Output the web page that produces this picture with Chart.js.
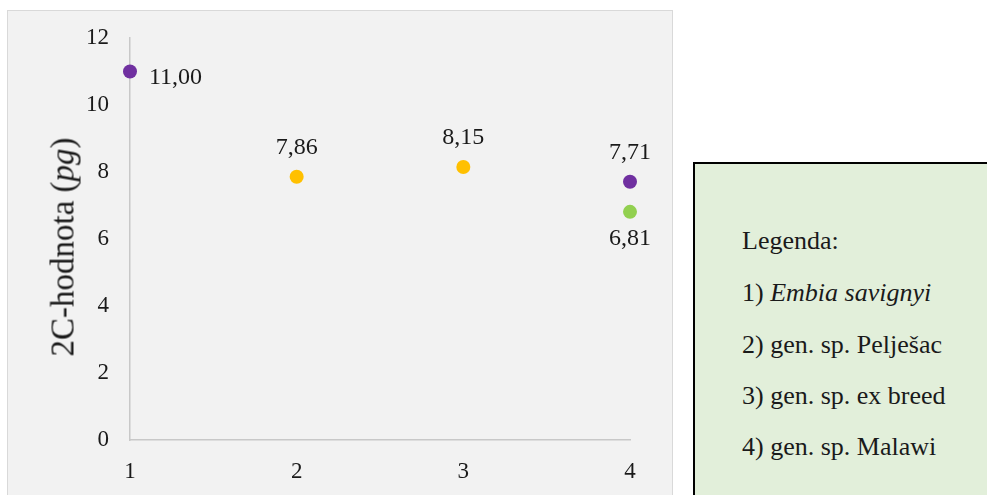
<!DOCTYPE html>
<html>
<head>
<meta charset="utf-8">
<script src="https://cdn.jsdelivr.net/npm/chart.js@4.4.1/dist/chart.umd.min.js"></script>
<style>
  body { margin: 0; background: #fff; width: 987px; height: 495px; position: relative; overflow: hidden;
         font-family: "Liberation Serif", "Times New Roman", serif; color: #1a1a1a; }
  #plotBox { position: absolute; left: 7px; top: 10px; width: 664px; height: 500px;
             background: #f2f2f2; border: 1px solid #d9d9d9; }
  #chartWrap { position: absolute; left: 0; top: 0; width: 987px; height: 495px; }
  #yTitle { position: absolute; left: 63px; top: 247px; transform: translate(-50%, -50%) rotate(-90deg);
            white-space: nowrap; font-size: 33px; }
  #legendBox { position: absolute; left: 693px; top: 162px; width: 300px; height: 340px;
               background: #e2efda; border: 2px solid #000; box-sizing: border-box; }
  #legendBox div { position: absolute; left: 47px; font-size: 26px; line-height: 30px; white-space: nowrap; }
</style>
</head>
<body>
<div id="plotBox"></div>
<div id="chartWrap"><canvas id="dnaChart" width="987" height="495"></canvas></div>
<div id="yTitle">2C-hodnota (<i>pg</i>)</div>
<div id="legendBox">
  <div style="top:62px">Legenda:</div>
  <div style="top:114px">1) <i>Embia savignyi</i></div>
  <div style="top:166px">2) gen. sp. Pelješac</div>
  <div style="top:217px">3) gen. sp. ex breed</div>
  <div style="top:268px">4) gen. sp. Malawi</div>
</div>
<script>
  // x positions = sample number, y = 2C value in pg
  const categories = [1, 2, 3, 4];
  const yTicks = [0, 2, 4, 6, 8, 10, 12];

  const purpleX = [1, 4];
  const purpleY = [11.00, 7.71];
  const goldX = [2, 3];
  const goldY = [7.86, 8.15];
  const greenX = [4];
  const greenY = [6.81];

  function toPoints(xs, ys) {
    return xs.map((x, i) => ({ x: x, y: ys[i] }));
  }

  // writes the value next to each point, decimal comma like the original
  const valueLabels = {
    id: 'valueLabels',
    afterDatasetsDraw(chart) {
      const ctx = chart.ctx;
      ctx.save();
      ctx.font = '24px "Liberation Serif", "Times New Roman", serif';
      ctx.fillStyle = '#1a1a1a';
      ctx.textBaseline = 'middle';
      chart.data.datasets.forEach((ds, di) => {
        const meta = chart.getDatasetMeta(di);
        meta.data.forEach((pt, i) => {
          const txt = ds.data[i].y.toFixed(2).replace('.', ',');
          const pos = ds.labelPos[i];
          if (pos === 'right') {
            ctx.textAlign = 'left';
            ctx.fillText(txt, pt.x + 19, pt.y + 6);
          } else if (pos === 'below') {
            ctx.textAlign = 'center';
            ctx.fillText(txt, pt.x, pt.y + 27);
          } else {
            ctx.textAlign = 'center';
            ctx.fillText(txt, pt.x, pt.y - 29);
          }
        });
      });
      ctx.restore();
    }
  };

  const tickFont = { family: '"Liberation Serif", "Times New Roman", serif', size: 23 };

  new Chart(document.getElementById('dnaChart'), {
    type: 'scatter',
    data: {
      datasets: [
        { data: toPoints(purpleX, purpleY), backgroundColor: '#7030a0', labelPos: ['right', 'above'], clip: false },
        { data: toPoints(goldX, goldY), backgroundColor: '#ffc000', labelPos: ['above', 'above'], clip: false },
        { data: toPoints(greenX, greenY), backgroundColor: '#92d050', labelPos: ['below'], clip: false }
      ]
    },
    options: {
      responsive: false,
      animation: false,
      maintainAspectRatio: false,
      elements: { point: { radius: 7, borderWidth: 0, hoverRadius: 7 } },
      layout: { padding: { left: 0, top: 38, right: 357, bottom: 15 } },
      plugins: { legend: { display: false }, tooltip: { enabled: false } },
      scales: {
        x: {
          type: 'linear',
          min: categories[0],
          max: categories[categories.length - 1],
          afterBuildTicks: (axis) => { axis.ticks = categories.map(v => ({ value: v })); },
          afterFit: (axis) => { axis.height = 40; },
          grid: { display: false, drawTicks: false },
          border: { display: true, color: '#c8c8c8', width: 1.5 },
          ticks: { color: '#1a1a1a', font: tickFont, padding: 18, maxRotation: 0 }
        },
        y: {
          min: yTicks[0],
          max: yTicks[yTicks.length - 1],
          afterBuildTicks: (axis) => { axis.ticks = yTicks.map(v => ({ value: v })); },
          afterFit: (axis) => { axis.width = 130; },
          grid: { display: false, drawTicks: false },
          border: { display: true, color: '#c8c8c8', width: 1.5 },
          ticks: { color: '#1a1a1a', font: tickFont, padding: 21 }
        }
      }
    },
    plugins: [valueLabels]
  });
</script>
</body>
</html>
